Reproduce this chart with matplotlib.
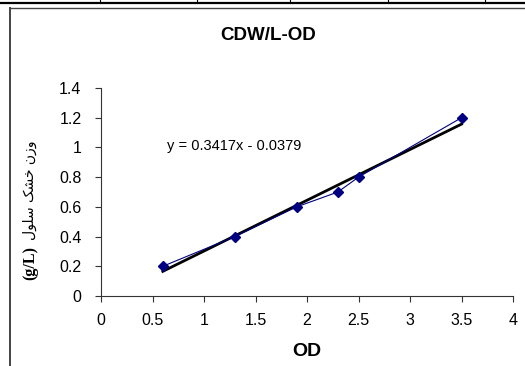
import numpy as np
import matplotlib
matplotlib.use("Agg")
import matplotlib.pyplot as plt
from matplotlib.lines import Line2D

# Data
od = [0.6, 1.3, 1.9, 2.3, 2.5, 3.5]
cdw = [0.2, 0.4, 0.6, 0.7, 0.8, 1.2]
xticks = [0, 0.5, 1, 1.5, 2, 2.5, 3, 3.5, 4]
xtick_labels = ["0", "0.5", "1", "1.5", "2", "2.5", "3", "3.5", "4"]
yticks = [0, 0.2, 0.4, 0.6, 0.8, 1.0, 1.2, 1.4]
ytick_labels = ["0", "0.2", "0.4", "0.6", "0.8", "1", "1.2", "1.4"]
title = "CDW/L-OD"
xlabel = "OD"
# "وزن خشک سلول" written with Arabic presentation forms in visual order
ylabel_fa = "\uFEDD\uFEEE\uFEE0\uFEB3 \uFB8F\uFEB8\uFEA7 \uFEE5\uFEAF\uFEED"
ylabel_unit = "(g/L)"
equation = "y = 0.3417x - 0.0379"

W, H = 525, 366
fig = plt.figure(figsize=(W / 100, H / 100), dpi=100)
fig.patch.set_facecolor("white")

ax = fig.add_axes([101 / W, 70 / H, 412 / W, 208 / H])
ax.plot(od, cdw, color="#000080", lw=0.8, marker="D", ms=5.5,
        mfc="#000080", mec="#000080", zorder=3)

coef = np.polyfit(od, cdw, 1)
xs = np.array([min(od), max(od)])
ax.plot(xs, np.polyval(coef, xs), color="black", lw=2.0, zorder=2)

ax.set_xlim(0, 4)
ax.set_ylim(0, 1.4)
ax.set_xticks(xticks)
ax.set_xticklabels(xtick_labels)
ax.set_yticks(yticks)
ax.set_yticklabels(ytick_labels)
for s in ["top", "right"]:
    ax.spines[s].set_visible(False)
for s in ["left", "bottom"]:
    ax.spines[s].set_color("#333333")
    ax.spines[s].set_linewidth(0.8)
ax.tick_params(axis="both", direction="out", length=4, width=0.8,
               color="#333333", labelsize=11.5)
ax.tick_params(axis="x", pad=8)
ax.tick_params(axis="y", pad=10)
for lab in ax.get_xticklabels() + ax.get_yticklabels():
    lab.set_fontfamily("Liberation Sans")

ax.text(0.64, 1.01, equation, fontsize=10.5, family="Liberation Sans",
        ha="left", va="center", transform=ax.transData)

fig.text(268 / W, 1 - 35 / H, title, fontsize=13.5, fontweight="bold",
         family="Liberation Sans", ha="center", va="center")
fig.text(307 / W, 1 - 352 / H, xlabel, fontsize=14, fontweight="bold",
         family="Liberation Sans", ha="center", va="center")
fig.text(30 / W, 1 - 263 / H, ylabel_unit, fontsize=11.5, fontweight="bold",
         family="Liberation Serif", rotation=90, ha="center", va="center")
fig.text(30 / W, 1 - 190 / H, ylabel_fa, fontsize=10, family="DejaVu Sans",
         rotation=90, ha="center", va="center")

# page frame
def px_line(x0, y0, x1, y1, lw=1.0, color="black"):
    fig.add_artist(Line2D([x0 / W, x1 / W], [1 - y0 / H, 1 - y1 / H],
                          transform=fig.transFigure, color=color, lw=lw))

px_line(0, 2.5, W, 2.5, lw=1.6)
for xv in [100, 197, 290, 388, 485]:
    px_line(xv, 0, xv, 3, lw=0.8)
px_line(9.5, 8, W, 8, lw=1.0, color="#444444")
px_line(9.5, 8, 9.5, H, lw=1.4, color="#444444")

fig.savefig("out.png", dpi=100)
